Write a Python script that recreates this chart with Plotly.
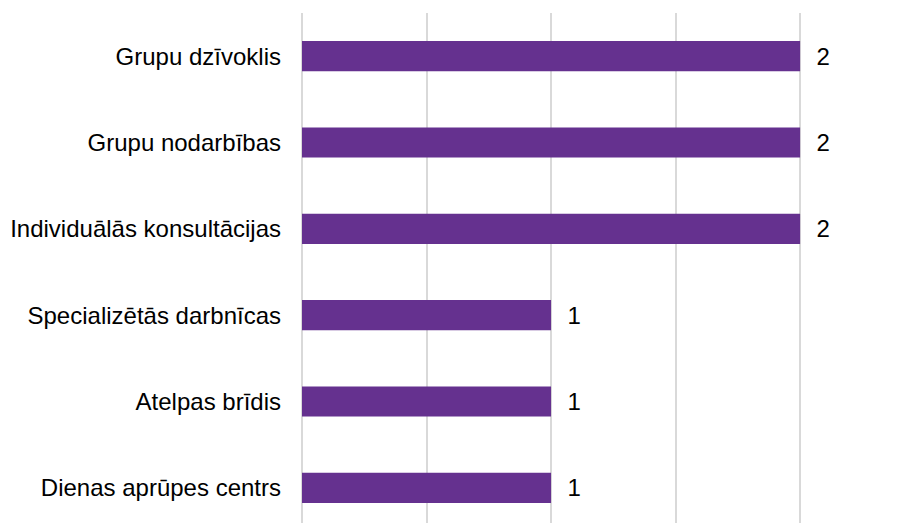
import plotly.graph_objects as go

categories = ["Grupu dzīvoklis", "Grupu nodarbības", "Individuālās konsultācijas",
              "Specializētās darbnīcas", "Atelpas brīdis", "Dienas aprūpes centrs"]
values = [2, 2, 2, 1, 1, 1]

fig = go.Figure(go.Bar(
    y=categories, x=values, orientation="h",
    marker=dict(color="#65318F", line=dict(width=0)),
    width=0.35,
    text=values, texttemplate="  %{x}", textposition="outside",
    textfont=dict(family="Liberation Sans, Arial, sans-serif", size=24, color="#000000"),
    cliponaxis=False,
))

fig.update_layout(
    width=914, height=523,
    margin=dict(l=294, r=97, t=5, b=0),
    paper_bgcolor="white", plot_bgcolor="white",
    showlegend=False,
    font=dict(family="Liberation Sans, Arial, sans-serif", size=24, color="#000000"),
    xaxis=dict(range=[0, 2.1], dtick=0.5, tick0=0, showgrid=True,
               gridcolor="#d9d9d9", gridwidth=1.5, showticklabels=False,
               zeroline=True, zerolinecolor="#d9d9d9", zerolinewidth=1.5,
               showline=False, fixedrange=True),
    yaxis=dict(categoryorder="array", categoryarray=categories,
               range=[5.5, -0.5], showgrid=False, zeroline=False, showline=False,
               ticklabelstandoff=20, tickfont=dict(size=24, color="#000000")),
)

fig.write_html("out.html")
